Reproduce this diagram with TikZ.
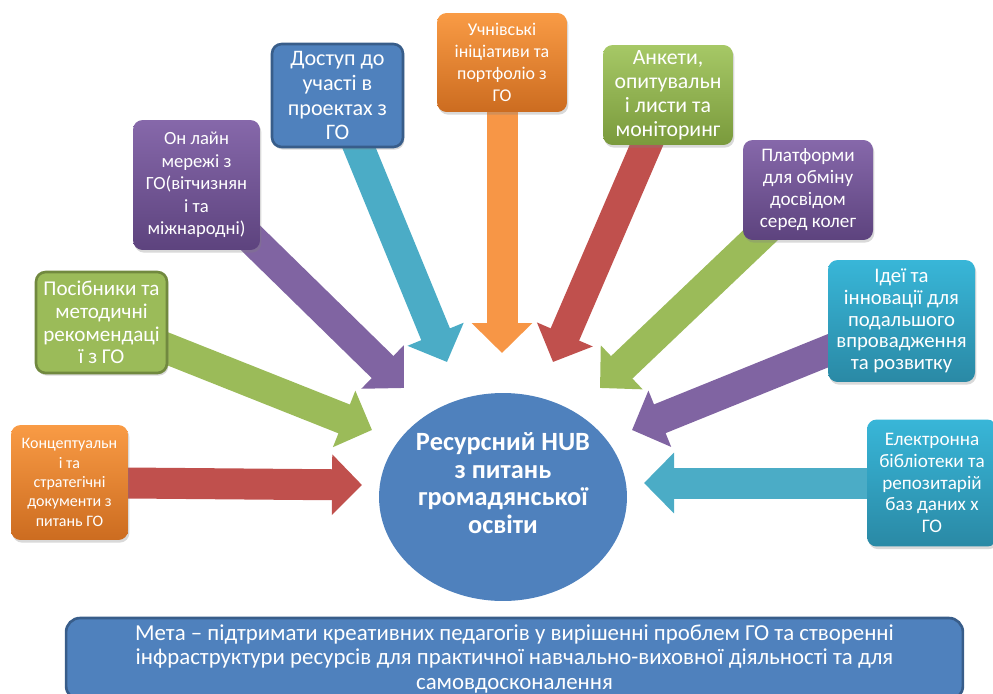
\documentclass[tikz,border=0pt]{standalone}
\usepackage{fontspec}
\setmainfont{Carlito}
\usetikzlibrary{arrows.meta,shadows,backgrounds,shapes.geometric}

\definecolor{hubblue}{HTML}{4F81BD}
\definecolor{hubline}{HTML}{385D8A}
\definecolor{arred}{HTML}{C0504D}
\definecolor{argreen}{HTML}{9BBB59}
\definecolor{arpurple}{HTML}{8064A2}
\definecolor{arteal}{HTML}{4BACC6}
\definecolor{arorange}{HTML}{F79646}
\definecolor{ortop}{HTML}{F99B45}
\definecolor{orbot}{HTML}{CC6C20}
\definecolor{grtop}{HTML}{A6C866}
\definecolor{grbot}{HTML}{7A9A3C}
\definecolor{grline}{HTML}{71893F}
\definecolor{putop}{HTML}{8668AA}
\definecolor{pubot}{HTML}{5D437E}
\definecolor{tetop}{HTML}{38B6D8}
\definecolor{tebot}{HTML}{2A89A5}

\begin{document}
\begin{tikzpicture}[x=0.02cm,y=-0.02cm,
    box/.style={rounded corners=5.5pt,align=center,text=white,inner sep=1pt,
        drop shadow={opacity=.3,shadow xshift=.8pt,shadow yshift=-1.5pt}},
    arr/.style={line width=0.62cm,-{Triangle[width=1.18cm,length=0.6cm]}}]
    \useasboundingbox (0,0) rectangle (993,693);

    % boxes round the hub
    \node[box,minimum width=2.34cm,minimum height=2.3cm,top color=ortop,bottom color=orbot,
        font=\fontsize{9.1}{11}\selectfont] (b1) at (69.5,482.5)
        {Концептуальн\\і та\\стратегічні\\документи з\\питань ГО};
    \node[box,minimum width=2.62cm,minimum height=2.02cm,fill=argreen,draw=grline,line width=1.5pt,
        font=\fontsize{12}{13}\selectfont] (b2) at (101.5,322.5)
        {Посібники та\\методичні\\рекомендаці\\ї з ГО};
    \node[box,minimum width=2.54cm,minimum height=2.6cm,top color=putop,bottom color=pubot,
        font=\fontsize{10.6}{12.8}\selectfont] (b3) at (196.5,185)
        {Он лайн\\мережі з\\ГО(вітчизнян\\і та\\міжнародні)};
    \node[box,minimum width=2.62cm,minimum height=2.06cm,fill=hubblue,draw=hubline,line width=1.5pt,
        font=\fontsize{12.6}{14.2}\selectfont] (b4) at (337.5,95.5)
        {Доступ до\\участі в\\проектах з\\ГО};
    \node[box,minimum width=2.6cm,minimum height=1.98cm,top color=ortop,bottom color=orbot,
        font=\fontsize{10.2}{12.5}\selectfont] (b5) at (502,62.5)
        {Учнівські\\ініціативи та\\портфоліо з\\ГО};
    \node[box,minimum width=2.6cm,minimum height=2cm,top color=grtop,bottom color=grbot,
        font=\fontsize{12.4}{13.6}\selectfont] (b6) at (668,95)
        {Анкети,\\опитувальн\\і листи та\\моніторинг};
    \node[box,minimum width=2.6cm,minimum height=2cm,top color=putop,bottom color=pubot,
        font=\fontsize{10.9}{12.5}\selectfont] (b7) at (808,190)
        {Платформи\\для обміну\\досвідом\\серед колег};
    \node[box,minimum width=2.94cm,minimum height=2.44cm,top color=tetop,bottom color=tebot,
        font=\fontsize{11.8}{12.4}\selectfont] (b8) at (901.5,321)
        {Ідеї та\\інновації для\\подальшого\\впровадження\\та розвитку};
    \node[box,minimum width=2.6cm,minimum height=2.54cm,top color=tetop,bottom color=tebot,
        font=\fontsize{10.9}{12.4}\selectfont] (b9) at (932,483)
        {Електронна\\бібліотеки та\\репозитарій\\баз даних х\\ГО};

    % hub
    \node[ellipse,fill=hubblue,minimum width=4.96cm,minimum height=4.16cm] (hub) at (503,497) {};
    \node[align=center,text=white,font=\bfseries\fontsize{15}{15.8}\selectfont] (hubtext) at (503,483)
        {Ресурсний HUB\\з питань\\громадянської\\освіти};

    % goal
    \node[rounded corners=8pt,fill=hubblue,draw=hubline,line width=1.5pt,minimum width=17.94cm,
        minimum height=1.64cm,align=center,text=white,font=\fontsize{13}{13.7}\selectfont] (goal) at (514.5,659)
        {Мета – підтримати креативних педагогів у вирішенні проблем ГО та створенні\\
         інфраструктури ресурсів для практичної навчально-виховної діяльності та для\\
         самовдосконалення};

    % arrow tips
    \coordinate (t1) at (362,485);
    \coordinate (t2) at (372,430);
    \coordinate (t3) at (404,388);
    \coordinate (t4) at (447,362);
    \coordinate (t5) at (502,353);
    \coordinate (t6) at (553,362);
    \coordinate (t7) at (600,388);
    \coordinate (t8) at (632,430);
    \coordinate (t9) at (644,483);

    \begin{scope}[on background layer]
        \draw[arr,arred] (b1.center) -- (t1);
        \draw[arr,argreen] (b2.center) -- (t2);
        \draw[arr,arpurple] (b3.center) -- (t3);
        \draw[arr,arteal] (b4.center) -- (t4);
        \draw[arr,arorange] (b5.center) -- (t5);
        \draw[arr,arred] (b6.center) -- (t6);
        \draw[arr,argreen] (b7.center) -- (t7);
        \draw[arr,arpurple] (b8.center) -- (t8);
        \draw[arr,arteal] (b9.center) -- (t9);
    \end{scope}
\end{tikzpicture}
\end{document}
